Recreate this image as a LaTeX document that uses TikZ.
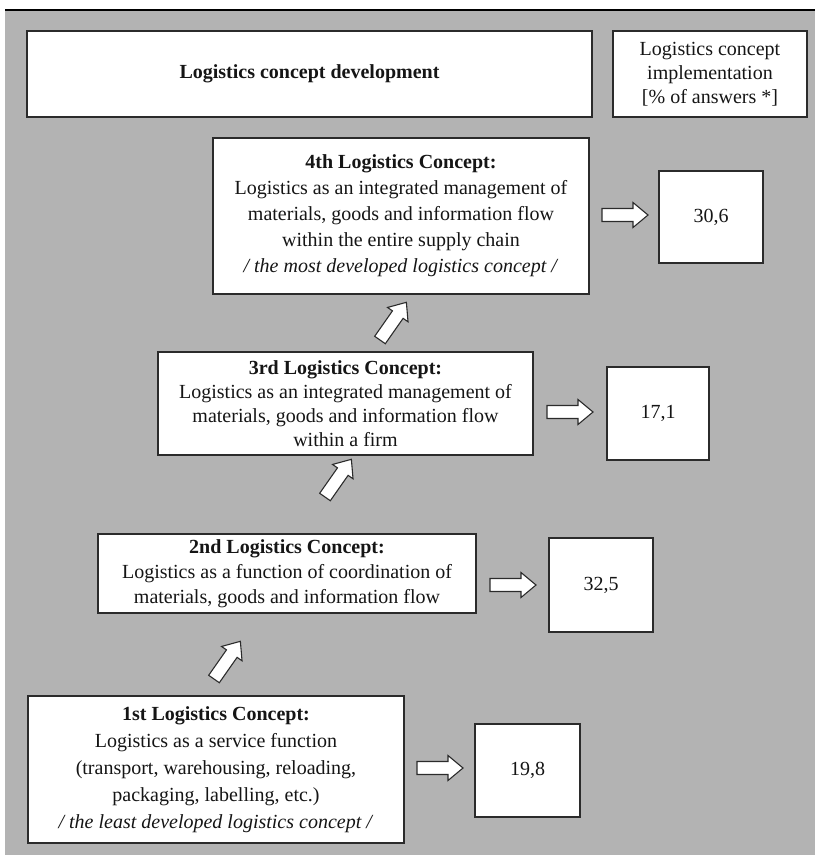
\documentclass[tikz,border=0pt]{standalone}
\usepackage{fontspec}
\setmainfont{Liberation Serif}
\definecolor{bggray}{HTML}{B3B3B3}
\definecolor{edge}{HTML}{2B2B2B}
\definecolor{ink}{HTML}{151515}
\tikzset{
  box/.style={draw=edge, line width=1.3pt, fill=white, inner sep=0pt,
    align=center, text=ink, font=\fontsize{20}{26}\selectfont},
  blockarrow/.pic={
    \draw[draw=edge, fill=white, line width=1.1pt, line join=miter]
      (0,-6.5) -- (31,-6.5) -- (31,-12.5) -- (46,0) -- (31,12.5)
      -- (31,6.5) -- (0,6.5) -- cycle;}
}
\begin{document}
\begin{tikzpicture}[x=1pt,y=-1pt]
\useasboundingbox (0,0) rectangle (815,855);
% panel
\fill[bggray] (5,10) rectangle (815,855);
\draw[black, line width=1.2pt] (5,10) -- (815,10);

% headers
\node[box, minimum width=565pt, minimum height=86pt] (hdrdev) at (309.5,74)
  {\textbf{Logistics concept development}};
\node[box, minimum width=194pt, minimum height=86pt,
      font=\fontsize{20}{24}\selectfont] (hdrimp) at (710,74)
  {Logistics concept\\ implementation\\ {[}\% of answers *{]}};

% concept boxes
\node[box, minimum width=376pt, minimum height=156pt] (c4) at (401,216)
  {\textbf{4th Logistics Concept:}\\
   Logistics as an integrated management of\\
   materials, goods and information flow\\
   within the entire supply chain\\
   \textit{/ the most developed logistics concept /}};
\node[box, minimum width=375pt, minimum height=103pt,
      font=\fontsize{20}{24}\selectfont] (c3) at (345.5,403.5)
  {\textbf{3rd Logistics Concept:}\\
   Logistics as an integrated management of\\
   materials, goods and information flow\\
   within a firm};
\node[box, minimum width=378pt, minimum height=79pt,
      font=\fontsize{20}{25}\selectfont] (c2) at (287,573.5)
  {\textbf{2nd Logistics Concept:}\\
   Logistics as a function of coordination of\\
   materials, goods and information flow};
\node[box, minimum width=376pt, minimum height=147pt,
      font=\fontsize{20}{27}\selectfont] (c1) at (216,769.5)
  {\textbf{1st Logistics Concept:}\\
   Logistics as a service function\\
   (transport, warehousing, reloading,\\
   packaging, labelling, etc.)\\
   \textit{/ the least developed logistics concept /}};

% implementation shares
\node[box, minimum width=104pt, minimum height=92pt] (v4) at (711,217) {30,6};
\node[box, minimum width=102pt, minimum height=93pt] (v3) at (658,413.5) {17,1};
\node[box, minimum width=104pt, minimum height=94pt] (v2) at (601,585) {32,5};
\node[box, minimum width=105pt, minimum height=93pt] (v1) at (527.5,770.5) {19,8};

% arrows to the shares
\pic at (602,215) {blockarrow};
\pic at (547,412) {blockarrow};
\pic at (490,585) {blockarrow};
\pic at (417,768) {blockarrow};

% arrows between concepts
\pic[rotate=55] at (380,340) {blockarrow};
\pic[rotate=55] at (325,497) {blockarrow};
\pic[rotate=55] at (214,679) {blockarrow};
\end{tikzpicture}
\end{document}
